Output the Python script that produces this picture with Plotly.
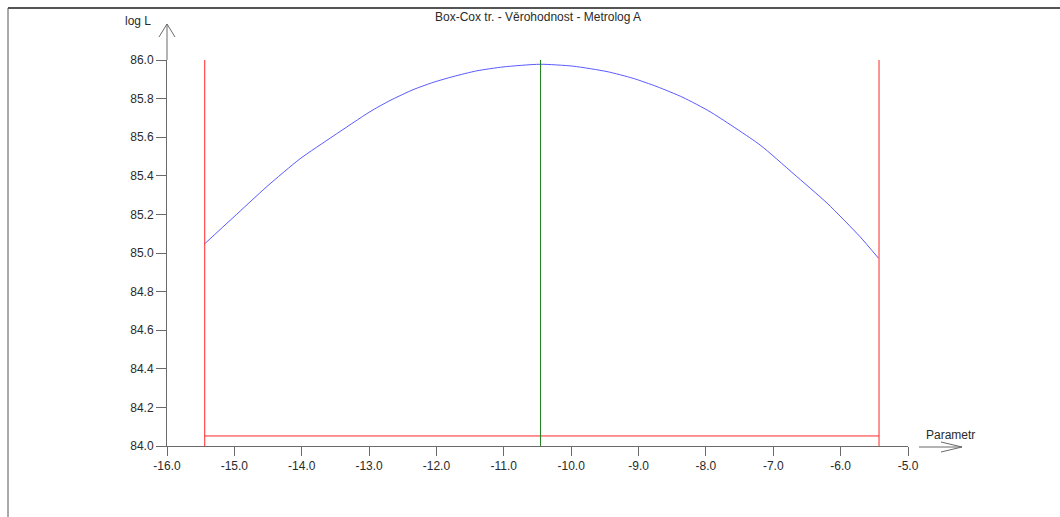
import plotly.graph_objects as go

# Profile log-likelihood of the Box-Cox parameter
param = [-15.443, -15.020, -14.515, -14.026, -13.536, -12.987, -12.690, -12.348, -12.050,
         -11.754, -11.400, -11.012, -10.463, -9.970, -9.468, -9.080, -8.726, -8.340,
         -7.939, -7.197, -6.707, -6.200, -5.711, -5.438]
log_l = [85.047, 85.183, 85.345, 85.488, 85.605, 85.732, 85.790, 85.846, 85.884,
         85.914, 85.944, 85.964, 85.978, 85.968, 85.940, 85.905, 85.862, 85.806,
         85.732, 85.560, 85.413, 85.258, 85.084, 84.973]

# Confidence interval bounds, optimum and cut-off level
ci_lower = -15.44
ci_upper = -5.43
optimum = -10.455
cut_level = 84.052

x_range = [-16.0, -5.0]
y_range = [84.0, 86.0]
x_ticks = [-16.0, -15.0, -14.0, -13.0, -12.0, -11.0, -10.0, -9.0, -8.0, -7.0, -6.0, -5.0]
y_ticks = [84.0, 84.2, 84.4, 84.6, 84.8, 85.0, 85.2, 85.4, 85.6, 85.8, 86.0]

W, H = 1060, 517
L, R, T, B = 167, 908, 60, 446  # plot area in pixels


def px(xp):
    return (xp - L) / (R - L)


def py(yp):
    return (B - yp) / (B - T)


AXIS = "#6a6a6a"
TEXT = "#2a2a2a"
FONT = "Liberation Sans, Arial, sans-serif"

fig = go.Figure()

fig.add_trace(go.Scatter(x=param, y=log_l, mode="lines",
                         line=dict(color="rgb(90,90,255)", width=1, shape="spline", smoothing=0.6),
                         hoverinfo="skip"))
fig.add_trace(go.Scatter(x=[ci_lower, ci_lower], y=y_range, mode="lines",
                         line=dict(color="rgb(255,40,40)", width=1), hoverinfo="skip"))
fig.add_trace(go.Scatter(x=[ci_upper, ci_upper], y=y_range, mode="lines",
                         line=dict(color="rgb(255,40,40)", width=1), hoverinfo="skip"))
fig.add_trace(go.Scatter(x=[ci_lower, ci_upper], y=[cut_level, cut_level], mode="lines",
                         line=dict(color="rgb(255,40,40)", width=1), hoverinfo="skip"))
fig.add_trace(go.Scatter(x=[optimum, optimum], y=y_range, mode="lines",
                         line=dict(color="rgb(30,130,30)", width=1), hoverinfo="skip"))

shapes = []


def seg(x0, y0, x1, y1, color=AXIS, width=1):
    shapes.append(dict(type="line", xref="paper", yref="paper",
                       x0=px(x0), y0=py(y0), x1=px(x1), y1=py(y1),
                       line=dict(color=color, width=width), layer="above"))


# outer frame (top and left edges)
seg(8, 8, W, 8, "#555555", 2)
seg(8, 8, 8, H, "#555555", 1)
# y axis extension with open arrowhead
seg(L, T, L, 24)
seg(159, 37, L, 24)
seg(175, 37, L, 24)
# x axis arrow
seg(919, 447, 962, 447)
seg(941, 442, 962, 447)
seg(941, 452, 962, 447)

annotations = [
    dict(text="Box-Cox tr. - Věrohodnost - Metrolog A", xref="paper", yref="paper",
         x=px(538), y=py(17), xanchor="center", yanchor="middle", showarrow=False,
         font=dict(size=12, color=TEXT, family=FONT)),
    dict(text="log L", xref="paper", yref="paper",
         x=px(153), y=py(21), xanchor="right", yanchor="middle", showarrow=False,
         font=dict(size=12, color=TEXT, family=FONT)),
    dict(text="Parametr", xref="paper", yref="paper",
         x=px(924), y=py(435), xanchor="left", yanchor="middle", showarrow=False,
         font=dict(size=12, color=TEXT, family=FONT)),
]

fig.update_layout(
    width=W, height=H,
    margin=dict(l=L, r=W - R, t=T, b=H - B, pad=0),
    paper_bgcolor="white", plot_bgcolor="white",
    showlegend=False,
    shapes=shapes,
    annotations=annotations,
    xaxis=dict(range=x_range, tickvals=x_ticks, ticktext=[f"{v:.1f}" for v in x_ticks],
               showgrid=False, zeroline=False, showline=True, linecolor=AXIS, linewidth=1,
               ticks="outside", ticklen=9, tickcolor=AXIS, tickwidth=1,
               tickfont=dict(size=12, color=TEXT, family=FONT)),
    yaxis=dict(range=y_range, tickvals=y_ticks, ticktext=[f"{v:.1f}" for v in y_ticks],
               showgrid=False, zeroline=False, showline=True, linecolor=AXIS, linewidth=1,
               ticks="outside", ticklen=10, tickcolor=AXIS, tickwidth=1,
               tickfont=dict(size=12, color=TEXT, family=FONT)),
)

fig.write_html("out.html", config={"displayModeBar": False})
